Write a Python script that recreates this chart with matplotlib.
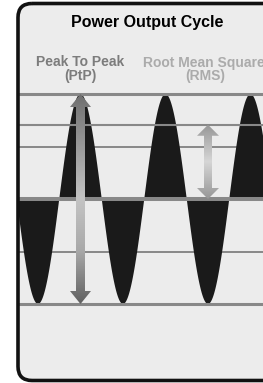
import numpy as np
import matplotlib
matplotlib.use("Agg")
import matplotlib.pyplot as plt
from matplotlib.patches import FancyBboxPatch, Polygon
from matplotlib.colors import LinearSegmentedColormap

# ---------------- data ----------------
title = "Power Output Cycle"
label_ptp = ["Peak To Peak", "(PtP)"]
label_rms = ["Root Mean Square", "(RMS)"]
# reference levels (in units of peak amplitude)
levels_over = [1.0, 0.707, 0.0, -1.0]     # drawn above the wave
levels_under = [0.5, -0.5]                # drawn beneath the wave
level_widths_over = [2.2, 1.5, 2.9, 2.2]
level_widths_under = [1.4, 1.4]
cycles = np.linspace(-0.6, 3.0, 2000)     # time in cycles
wave = -np.cos(2 * np.pi * cycles)        # sine wave, amplitude 1
ptp_arrow = dict(t=0.5, lo=-1.0, hi=1.0)
rms_arrow = dict(t=2.0, lo=0.0, hi=0.707)

# ---------------- layout (pixels) ----------------
W, H = 263, 383
CENTER_PX, AMP_PX, PERIOD_PX, T0_PX = 199, 105, 85, 38
BG = "#ececec"
LINE = "#888888"
FILLC = "#1a1a1a"

fig = plt.figure(figsize=(W / 100, H / 100), dpi=100)
fig.patch.set_facecolor("white")

bg = fig.add_axes([0, 0, 1, 1])
bg.set_xlim(0, W)
bg.set_ylim(H, 0)
bg.axis("off")

frame = FancyBboxPatch((18, 3.5), 300, 377, boxstyle="round,pad=0,rounding_size=14",
                       facecolor=BG, edgecolor="none", transform=bg.transData)
bg.add_patch(frame)

ax = fig.add_axes([0, 0, 1, 1])
ax.patch.set_alpha(0)
ax.axis("off")

for lv, lw in zip(levels_under, level_widths_under):
    l = ax.axhline(lv, color=LINE, lw=lw, zorder=1)
    l.set_clip_path(frame)

f = ax.fill_between(cycles, 0, wave, color=FILLC, lw=0, zorder=2)
f.set_clip_path(frame)

for lv, lw in zip(levels_over, level_widths_over):
    l = ax.axhline(lv, color=LINE, lw=lw, zorder=3)
    l.set_clip_path(frame)

sx = 1.0 / PERIOD_PX   # data units per pixel (x)
sy = 1.0 / AMP_PX      # data units per pixel (y)


def arrow(spec, shaft_px, head_w_px, head_len_px, colors):
    t, lo, hi = spec["t"], spec["lo"], spec["hi"]
    sw, hw, hl = shaft_px / 2 * sx, head_w_px / 2 * sx, head_len_px * sy
    verts = [(t, hi), (t + hw, hi - hl), (t + sw, hi - hl), (t + sw, lo + hl),
             (t + hw, lo + hl), (t, lo), (t - hw, lo + hl), (t - sw, lo + hl),
             (t - sw, hi - hl), (t - hw, hi - hl)]
    poly = Polygon(verts, closed=True, facecolor="none", edgecolor="none")
    ax.add_patch(poly)
    cmap = LinearSegmentedColormap.from_list("g", colors)
    grad = np.linspace(0, 1, 256).reshape(-1, 1)
    im = ax.imshow(grad, cmap=cmap, extent=[t - hw, t + hw, lo, hi], origin="lower",
                   aspect="auto", interpolation="bilinear", zorder=4)
    im.set_clip_path(poly)


arrow(ptp_arrow, 9, 21, 13, ["#606060", "#a8a8a8", "#c4c4c4", "#9a9a9a", "#6e6e6e"])
arrow(rms_arrow, 8, 22, 11, ["#969696", "#d6d6d6", "#969696"])

ax.set_xlim((0 - T0_PX) / PERIOD_PX, (W - T0_PX) / PERIOD_PX)
ax.set_ylim((CENTER_PX - H) / AMP_PX, CENTER_PX / AMP_PX)

border = FancyBboxPatch((18, 3.5), 300, 377, boxstyle="round,pad=0,rounding_size=14",
                        facecolor="none", edgecolor="#111111", lw=2.6,
                        transform=bg.transData, zorder=5)
fig.add_artist(border)

font = "Liberation Sans"
bg.text(147, 27, title, ha="center", va="baseline", fontsize=11.5,
        fontweight="bold", family=font, color="black")
bg.text(80.5, 66.5, label_ptp[0], ha="center", va="baseline", fontsize=10,
        fontweight="bold", family=font, color="#7c7c7c")
bg.text(80.5, 80, label_ptp[1], ha="center", va="baseline", fontsize=10,
        fontweight="bold", family=font, color="#7c7c7c")
bg.text(204, 66.5, label_rms[0], ha="center", va="baseline", fontsize=10,
        fontweight="bold", family=font, color="#ababab")
bg.text(205, 80, label_rms[1], ha="center", va="baseline", fontsize=10,
        fontweight="bold", family=font, color="#ababab")

fig.savefig("out.png", dpi=100)
